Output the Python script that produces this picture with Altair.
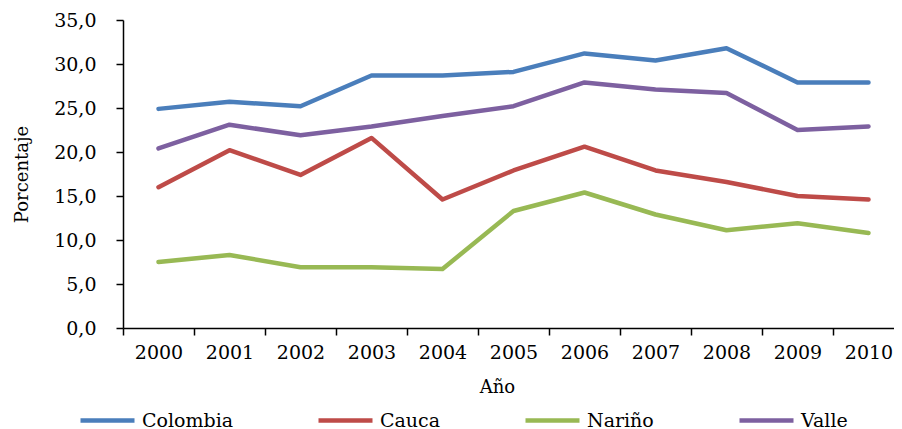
import altair as alt
import pandas as pd

years = ["2000", "2001", "2002", "2003", "2004", "2005", "2006", "2007", "2008", "2009", "2010"]
series = ["Colombia", "Cauca", "Nariño", "Valle"]
colombia = [24.9, 25.7, 25.2, 28.7, 28.7, 29.1, 31.2, 30.4, 31.8, 27.9, 27.9]
cauca = [16.0, 20.2, 17.4, 21.6, 14.6, 17.9, 20.6, 17.9, 16.6, 15.0, 14.6]
narino = [7.5, 8.3, 6.9, 6.9, 6.7, 13.3, 15.4, 12.9, 11.1, 11.9, 10.8]
valle = [20.4, 23.1, 21.9, 22.9, 24.1, 25.2, 27.9, 27.1, 26.7, 22.5, 22.9]
colors = ["#4a7ebb", "#be4b48", "#98b954", "#7d60a0"]

rows = []
for name, vals in zip(series, [colombia, cauca, narino, valle]):
    for y, v in zip(years, vals):
        rows.append({"Año": y, "Serie": name, "Valor": v})
df = pd.DataFrame(rows)

FONT = "DejaVu Serif"

chart = alt.Chart(df).mark_line(strokeWidth=4.5, strokeCap="round", strokeJoin="round").encode(
    x=alt.X("Año:N", sort=years, scale=alt.Scale(paddingInner=0, paddingOuter=0),
            axis=alt.Axis(title="Año", labelAngle=0, tickBand="extent", tickSize=7,
                          labelPadding=8, titleX=374, titleY=59, titleAlign="center",
                          titleBaseline="middle")),
    y=alt.Y("Valor:Q", scale=alt.Scale(domain=[0, 35], nice=False),
            axis=alt.Axis(title="Porcentaje", values=[0, 5, 10, 15, 20, 25, 30, 35],
                          labelExpr="replace(format(datum.value, '.1f'), '.', ',')",
                          tickSize=7, labelPadding=20, grid=False,
                          titleAngle=-90, titleX=-101, titleY=154,
                          titleAlign="center", titleBaseline="middle")),
    color=alt.Color("Serie:N", sort=series,
                    scale=alt.Scale(domain=series, range=colors),
                    legend=alt.Legend(title=None, orient="none", direction="horizontal",
                                      columns=4, legendX=-31.5, legendY=384.5,
                                      symbolType="M-2,0H2", symbolSize=729,
                                      symbolStrokeWidth=4.5, symbolFillColor="transparent",
                                      labelOffset=18.5,
                                      columnPadding=76, labelFontSize=19,
                                      labelFont=FONT, labelColor="black")),
).properties(
    width=781, height=308, autosize="none",
    padding={"left": 115, "top": 12, "right": -10, "bottom": 101},
).configure_view(stroke=None).configure_axis(
    labelFont=FONT, titleFont=FONT, labelFontSize=19, titleFontSize=18,
    titleFontWeight="normal", labelColor="black", titleColor="black",
    domainColor="black", tickColor="black", domainWidth=1.5, tickWidth=1.5,
    grid=False,
)

chart.save("out.html", embed_options={"renderer": "svg", "actions": False})
